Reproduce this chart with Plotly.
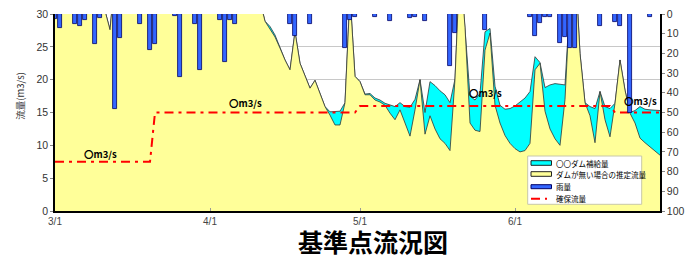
import plotly.graph_objects as go
import pandas as pd

YEAR = 2010
days = pd.date_range(f"{YEAR}-03-01", f"{YEAR}-06-30", freq="D")

# Estimated natural flow (no dam), m3/s, daily 3/1 .. 6/30
natural_flow = [
    42, 45, 40, 38, 44, 50, 46, 41, 38, 36,
    30.5, 27.6, 34,
    45, 52, 48, 44, 41, 39, 40, 47, 55, 50, 46, 43, 40, 38, 37, 42, 48, 45, 41, 39, 37, 36, 38, 43, 40, 37, 35, 34,
    32, 28.9, 27.8, 26.5, 24.8, 23.0, 21.5, 27.3, 22.5, 20.7,
    18.7, 19.9, 17.8, 15.9, 14.6, 13.1, 13.1, 16.5, 33, 20.5,
    19.7, 17.7, 17.7, 16.9, 16.6, 16.1, 14.9, 13.9, 15.4, 13.4,
    11.4, 15.4, 20.0, 11.7, 14.5, 12.5, 11.0, 10.3, 9.2, 20.1,
    38, 28, 13.4, 12.3, 12.1, 24.5, 27.1, 16.1, 13.4, 11.5,
    10.3, 9.5, 9.0, 9.2, 10.3, 21.5, 22.5, 15.2, 12.5, 11.0,
    10.0, 17.0, 32, 38, 24, 16.5, 14.5, 10.4, 18.2, 13.9,
    11.3, 16.4, 23.0, 18.4, 14.9, 13.4, 11.1, 10.4, 9.8, 9.1, 8.5,
]

# Flow with dam supply (top of cyan area), m3/s
supplied_flow = [
    42, 45, 40, 38, 44, 50, 46, 41, 38, 36,
    30.5, 27.6, 34,
    45, 52, 48, 44, 41, 39, 40, 47, 55, 50, 46, 43, 40, 38, 37, 42, 48, 45, 41, 39, 37, 36, 38, 43, 40, 37, 35, 34,
    32, 28.9, 28.1, 26.8, 24.8, 23.0, 21.5, 27.3, 22.5, 20.7,
    18.7, 19.9, 17.8, 15.9, 15.1, 15.1, 15.2, 16.5, 33, 20.5,
    19.7, 17.8, 17.9, 17.2, 16.9, 16.4, 16.2, 15.9, 16.5, 15.9,
    15.8, 17.0, 20.0, 15.0, 19.7, 19.1, 18.3, 17.7, 16.5, 20.1,
    38, 28, 17.5, 16.9, 17.9, 27.3, 27.8, 19.0, 16.1, 15.5,
    15.6, 16.0, 16.6, 17.2, 18.2, 23.5, 22.6, 18.8, 19.2, 19.4,
    19.3, 19.2, 32, 38, 24, 16.5, 15.9, 15.6, 18.2, 15.9,
    15.6, 16.4, 23.0, 18.4, 15.0, 15.3, 15.9, 15.5, 15.4, 15.3, 15.3,
]

# Daily rainfall (mm)
rain_dates = ["03-01", "03-02", "03-05", "03-06", "03-07", "03-09", "03-10", "03-13", "03-14",
              "03-18", "03-20", "03-21", "03-25", "03-26", "03-29", "03-30", "04-03", "04-04",
              "04-05", "04-06", "04-17", "04-18", "04-21", "04-28", "04-29", "04-30", "05-04",
              "05-07", "05-11", "05-12", "05-14", "05-19", "05-20", "05-26", "06-04", "06-05",
              "06-06", "06-07", "06-08", "06-10", "06-11", "06-12", "06-13", "06-18", "06-21",
              "06-22", "06-24", "06-28"]
rain_mm = [2.7, 7.3, 5.2, 6.3, 3.2, 15.4, 2.2, 48, 12.3,
           5.2, 18.3, 15.4, 1.2, 32, 5.2, 28.4, 3.2, 24.2,
           3.2, 5.2, 5.2, 11.2, 5.2, 17.4, 3.0, 1.4, 1.4,
           3.3, 2.2, 1.4, 3.3, 26.2, 9.5, 8.3, 1.4, 11.2,
           4.4, 1.4, 1.4, 14.5, 11.5, 17.4, 17.4, 6.3, 4.2,
           6.0, 50.4, 1.4]

# Guaranteed flow (step line)
target_dates = ["03-01", "03-20", "03-21", "04-30", "05-01", "06-20", "06-21", "06-30"]
target_flow = [7.5, 7.5, 15, 15, 16, 16, 15, 15]

tick_dates = ["03-01", "04-01", "05-01", "06-01"]
tick_labels = ["3/1", "4/1", "5/1", "6/1"]

label_dates = ["03-10", "04-08", "05-26", "06-26"]
label_flow = [8.75, 16.5, 18.0, 16.75]
label_text = "〇m3/s"

def d(s):
    return f"{YEAR}-{s}"

JP = "Noto Sans CJK JP"
NUM = "Liberation Sans"

fig = go.Figure()
fig.add_trace(go.Scatter(
    x=days, y=supplied_flow, mode="lines", fill="tozeroy",
    fillcolor="#00FFFF", line=dict(color="#333333", width=0.8),
    name="〇〇ダム補給量", showlegend=False, hoverinfo="skip"))
fig.add_trace(go.Scatter(
    x=days, y=natural_flow, mode="lines", fill="tozeroy",
    fillcolor="#FFFF99", line=dict(color="#333333", width=0.8),
    name="ダムが無い場合の推定流量", showlegend=False))
fig.add_trace(go.Scatter(
    x=[d(s) for s in target_dates], y=target_flow, mode="lines",
    line=dict(color="#FF0000", width=2, dash="9px,5px,3px,5px"),
    name="確保流量", showlegend=False))
fig.add_trace(go.Bar(
    x=[d(s) for s in rain_dates], y=rain_mm, yaxis="y2",
    width=86400000 * 0.95,
    marker=dict(color="#3366FF", line=dict(color="#000066", width=0.8)),
    name="雨量", showlegend=False))

annotations = []
for ld, lf in zip(label_dates, label_flow):
    annotations.append(dict(x=d(ld), y=lf, xref="x", yref="y", text=f"<b>{label_text}</b>",
                            xanchor="center", yanchor="middle",
                            showarrow=False, font=dict(family=JP, size=9.5, color="#000")))

# Axis titles and chart title
annotations.append(dict(x=-0.058, y=0.585, xref="paper", yref="paper", text="流量(m3/s)",
                        xanchor="center", yanchor="middle",
                        textangle=-90, showarrow=False, font=dict(family=JP, size=9.5, color="#333")))
annotations.append(dict(x=1.056, y=0.553, xref="paper", yref="paper", text="〇〇地点日雨量(mm)",
                        xanchor="center", yanchor="middle",
                        textangle=-90, showarrow=False, font=dict(family=JP, size=11, color="#333")))
annotations.append(dict(x=0.5248, y=-0.152, xref="paper", yref="paper", text="<b>基準点流況図</b>",
                        xanchor="center", yanchor="middle",
                        showarrow=False, font=dict(family=JP, size=25, color="#000")))

# Hand-made compact legend (coordinates relative to plot area in screen pixels)
def px(x):
    return (x - 55) / 605

def py(y):
    return (211 - y) / 197

shapes = [
    dict(type="rect", xref="paper", yref="paper", x0=px(527.7), x1=px(641.7), y0=py(204.3), y1=py(156),
         fillcolor="white", line=dict(color="#C8C8A8", width=1), layer="above"),
    dict(type="rect", xref="paper", yref="paper", x0=px(531), x1=px(551.5), y0=py(165.3), y1=py(160.7),
         fillcolor="#00FFFF", line=dict(color="#222", width=1)),
    dict(type="rect", xref="paper", yref="paper", x0=px(531), x1=px(551.5), y0=py(176.3), y1=py(171.7),
         fillcolor="#FFFF99", line=dict(color="#222", width=1)),
    dict(type="rect", xref="paper", yref="paper", x0=px(531), x1=px(551.5), y0=py(188.7), y1=py(184.7),
         fillcolor="#3366FF", line=dict(color="#000066", width=1)),
    dict(type="line", xref="paper", yref="paper", x0=px(531), x1=px(552), y0=py(198.8), y1=py(198.8),
         line=dict(color="#FF0000", width=2, dash="9px,5px,2px,5px")),
]
legend_names = ["〇〇ダム補給量", "ダムが無い場合の推定流量", "雨量", "確保流量"]
legend_y = [163, 174, 186.7, 198.6]
for nm, ly in zip(legend_names, legend_y):
    annotations.append(dict(x=px(553.5), y=py(ly), xref="paper", yref="paper", text=nm,
                            xanchor="left", yanchor="middle", showarrow=False,
                            font=dict(family=JP, size=7.5, color="#000")))

# The page body adds an 8px offset; margins compensate so the plot area
# lands at x 55..660, y 14..211 in the window.
fig.update_layout(
    width=693, height=257,
    margin=dict(l=47, r=41, t=6, b=54, autoexpand=False),
    paper_bgcolor="white", plot_bgcolor="white",
    showlegend=False, bargap=0,
    xaxis=dict(type="date", range=[d("03-01"), d("06-30")],
               tickvals=[d(s) for s in tick_dates], ticktext=tick_labels,
               ticks="inside", ticklen=3, tickcolor="#999",
               showgrid=False, showline=True, linecolor="#000", linewidth=1.5,
               tickfont=dict(family=NUM, size=10, color="#444"), zeroline=False),
    yaxis=dict(range=[0, 30], dtick=5, showgrid=True, gridcolor="#C8C8C8", gridwidth=1,
               showline=True, linecolor="#000", linewidth=1.5, ticks="outside", ticklen=3,
               tickcolor="#888", tickfont=dict(family=NUM, size=10.5, color="#333"), zeroline=False,
               ticklabeloverflow="allow"),
    yaxis2=dict(range=[100, 0], dtick=10, overlaying="y", side="right", showgrid=False,
                showline=True, linecolor="#000", linewidth=1.5, ticks="outside", ticklen=3,
                tickcolor="#888", tickfont=dict(family=NUM, size=10.5, color="#333"), zeroline=False,
                ticklabeloverflow="allow"),
    annotations=annotations,
    shapes=shapes,
)

fig.write_html("out.html")
